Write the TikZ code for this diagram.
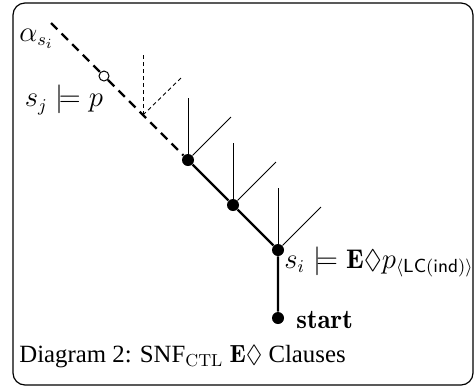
\documentclass[tikz,border=0pt]{standalone}
\usepackage{fontspec}
\usepackage{amssymb}
\newfontfamily\captionfont{Liberation Serif}
\usetikzlibrary{positioning}

\tikzset{
	state/.style={circle, fill, inner sep=0pt, minimum size=6pt},
	hollow/.style={circle, draw, fill=white, inner sep=0pt, minimum size=5pt, line width=0.5pt},
	path line/.style={line width=1.2pt},
	gap line/.style={line width=1.2pt, dash pattern=on 4.5pt off 3pt},
	branch/.style={line width=0.45pt},
	gap branch/.style={line width=0.45pt, dash pattern=on 2pt off 1.5pt},
	formula/.style={inner sep=0pt, font=\fontsize{13.5}{16}\selectfont}
}

\begin{document}
\begin{tikzpicture}[x=0.5pt, y=-0.5pt]
		\useasboundingbox (0, 0) rectangle (476, 387);

		% frame
		\draw [line width=0.6pt, rounded corners=6pt] (13, 3) rectangle (473, 385);

		% states along the path, from the far past down to start
		\coordinate (top) at (51, 23);
		\node [hollow] (sj) at (104, 76) {};
		\coordinate (fork) at (143, 115);
		\node [state] (n1) at (188, 160) {};
		\node [state] (n2) at (233, 205) {};
		\node [state] (si) at (278, 250) {};
		\node [state] (start) at (278, 318) {};

		% the dashed part of the path
		\draw [gap line] (top) -- (sj);
		\draw [gap line] (sj) -- (fork) -- (n1);

		% the solid part of the path
		\draw [path line] (n1) -- (n2) -- (si) -- (start);

		% branching successors
		\coordinate (fork up) at (143, 53);
		\coordinate (fork right) at (183, 76);
		\draw [gap branch] (fork) -- (fork up);
		\draw [gap branch] (fork) -- (fork right);
		\foreach \n/\x/\y in {n1/188/160, n2/233/205, si/278/250} {
			\coordinate (\n up) at (\x, \y-62);
			\coordinate (\n right) at (\x+43, \y-43);
			\draw [branch] (\n) -- (\n up);
			\draw [branch] (\n) -- (\n right);
		}

		% labels
		\node [formula, anchor=west] (alpha) at (19, 39) {$\alpha_{s_i}$};
		\node [formula] (sjlabel) at (64, 100) {$s_j \models p$};
		\node [formula, anchor=west] (silabel) at (284, 262)
			{$s_i \models \mathbf{E}\Diamond p_{\langle \mathsf{LC(ind)}\rangle}$};
		\node [formula, anchor=west] (startlabel) at (296, 320) {$\mathbf{start}$};

		\node [anchor=west, inner sep=0pt, font=\fontsize{12.4}{15}\selectfont] (caption) at (19, 357)
			{\captionfont Diagram 2: SNF$_{\mathrm{CTL}}$ $\mathbf{E}\Diamond$ Clauses};
	\end{tikzpicture}
\end{document}
